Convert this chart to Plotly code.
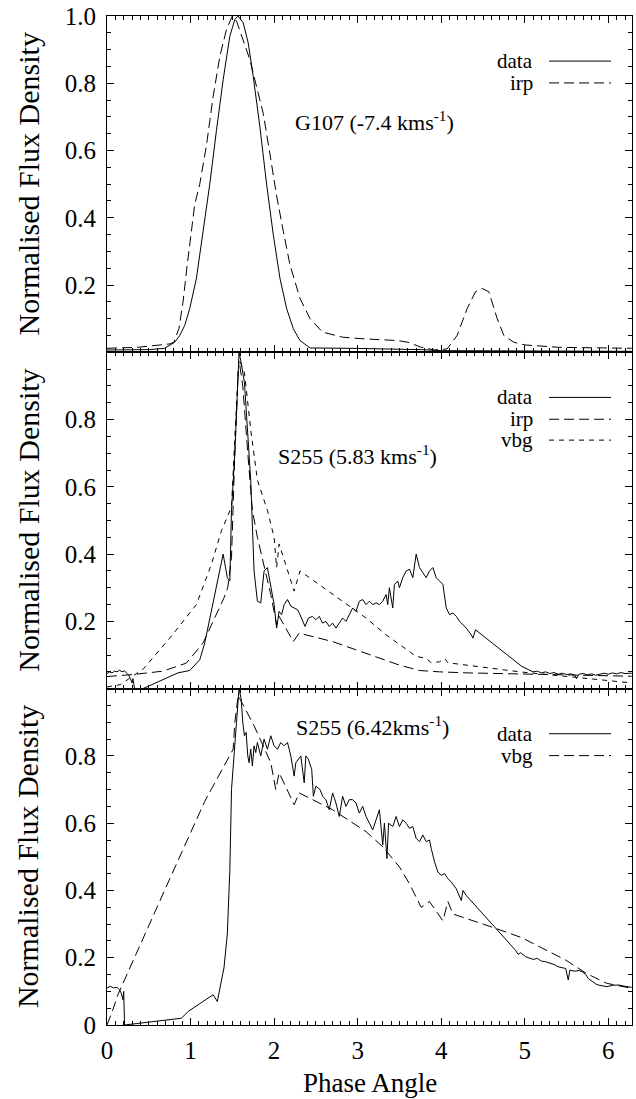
import math
import plotly.graph_objects as go

# ---------------- data ----------------
# Top panel: G107 (-7.4 km/s)
g107_data_x = [0.0, 0.30, 0.51, 0.69, 0.75, 0.81, 0.87, 0.93, 0.99, 1.07, 1.15, 1.23, 1.31, 1.39, 1.47,
               1.53, 1.57, 1.63, 1.69, 1.75, 1.83, 1.91, 1.99, 2.07, 2.15, 2.23, 2.31, 2.43, 2.90, 3.40,
               3.76, 4.00, 4.60, 5.40, 6.28]
g107_data_y = [0.007, 0.007, 0.008, 0.012, 0.02, 0.03, 0.05, 0.08, 0.13, 0.22, 0.36, 0.50, 0.66, 0.81, 0.94,
               0.99, 1.0, 0.98, 0.92, 0.82, 0.67, 0.50, 0.35, 0.22, 0.13, 0.07, 0.035, 0.013, 0.012, 0.01,
               0.008, 0.005, 0.004, 0.003, 0.003]
g107_irp_x = [0.0, 0.37, 0.75, 0.80, 0.86, 0.91, 0.96, 1.01, 1.05, 1.11, 1.19, 1.27, 1.35, 1.43, 1.50,
              1.55, 1.63, 1.71, 1.77, 1.87, 1.95, 2.03, 2.11, 2.19, 2.31, 2.43, 2.58, 2.82, 3.08, 3.48,
              3.60, 3.76, 3.92, 4.07, 4.19, 4.31, 4.41, 4.49, 4.57, 4.67, 4.75, 4.87, 5.00, 5.40, 6.28]
g107_irp_y = [0.012, 0.015, 0.025, 0.03, 0.07, 0.15, 0.26, 0.36, 0.44, 0.50, 0.615, 0.76, 0.88, 0.96, 1.0,
              0.985, 0.93, 0.87, 0.81, 0.71, 0.59, 0.465, 0.36, 0.26, 0.16, 0.10, 0.06, 0.045, 0.04, 0.035,
              0.03, 0.015, 0.007, 0.01, 0.05, 0.13, 0.18, 0.19, 0.18, 0.10, 0.05, 0.03, 0.022, 0.015, 0.012]

# Middle panel: S255 (5.83 km/s)
s255a_data_x = [0.0, 0.03, 0.06, 0.09, 0.12, 0.15, 0.18, 0.21, 0.24, 0.26, 0.28, 0.30, 0.31, 0.33, 0.43,
                0.85, 0.99, 1.11, 1.17, 1.39, 1.44, 1.47, 1.49, 1.53, 1.58, 1.605, 1.645, 1.68, 1.72, 1.76,
                1.80, 1.84, 1.88, 1.92, 1.96, 2.00, 2.03, 2.06, 2.09, 2.12, 2.16, 2.20, 2.24, 2.28, 2.31,
                2.34, 2.37, 2.41, 2.46, 2.50, 2.54, 2.58, 2.62, 2.66, 2.70, 2.74, 2.78, 2.82, 2.86, 2.90,
                2.94, 2.98, 3.02, 3.06, 3.10, 3.14, 3.18, 3.22, 3.26, 3.30, 3.34, 3.36, 3.38, 3.42, 3.44,
                3.48, 3.50, 3.54, 3.58, 3.62, 3.66, 3.70, 3.74, 3.78, 3.82, 3.86, 3.90, 3.94, 3.98, 4.02,
                4.06, 4.10, 4.14, 4.18, 4.22, 4.30, 4.36, 4.38, 4.41, 4.96, 5.04, 5.10, 5.15, 5.20, 5.25,
                5.30, 5.35, 5.40, 5.45, 5.50, 5.55, 5.60, 5.62, 5.65, 5.70, 5.75, 5.80, 5.85, 5.90, 5.95,
                6.00, 6.05, 6.10, 6.15, 6.20, 6.28]
s255a_data_y = [0.045, 0.05, 0.047, 0.052, 0.05, 0.055, 0.05, 0.053, 0.045, 0.04, 0.03, 0.017, 0.03, 0.0, 0.0,
                0.047, 0.054, 0.086, 0.136, 0.40, 0.33, 0.32, 0.53, 0.70, 1.0, 0.97, 0.91, 0.78, 0.62, 0.35,
                0.26, 0.255, 0.35, 0.36, 0.31, 0.25, 0.18, 0.23, 0.22, 0.25, 0.265, 0.245, 0.24, 0.235, 0.22,
                0.20, 0.185, 0.21, 0.215, 0.205, 0.215, 0.195, 0.20, 0.185, 0.195, 0.18, 0.195, 0.21, 0.20, 0.22,
                0.24, 0.23, 0.26, 0.265, 0.25, 0.26, 0.25, 0.255, 0.25, 0.26, 0.28, 0.25, 0.30, 0.24, 0.31,
                0.32, 0.30, 0.33, 0.35, 0.355, 0.33, 0.40, 0.36, 0.345, 0.33, 0.35, 0.36, 0.33, 0.32, 0.31,
                0.24, 0.22, 0.225, 0.215, 0.20, 0.18, 0.16, 0.15, 0.175, 0.067, 0.057, 0.05, 0.052, 0.047, 0.05,
                0.045, 0.048, 0.043, 0.046, 0.042, 0.044, 0.04, 0.03, 0.043, 0.045, 0.041, 0.044, 0.04, 0.043, 0.046,
                0.043, 0.047, 0.044, 0.048, 0.045, 0.046]
s255a_irp_x = [0.0, 0.31, 0.67, 0.95, 1.15, 1.31, 1.40, 1.445, 1.49, 1.53, 1.57, 1.59, 1.625, 1.685, 1.74,
               1.80, 1.88, 1.96, 2.03, 2.06, 2.23, 2.30, 2.70, 3.10, 3.50, 3.74, 3.98, 4.30, 4.94, 5.60, 6.28]
s255a_irp_y = [0.036, 0.042, 0.052, 0.076, 0.136, 0.22, 0.27, 0.30, 0.39, 0.70, 0.94, 0.96, 0.90, 0.70, 0.53,
               0.45, 0.36, 0.28, 0.19, 0.215, 0.14, 0.165, 0.14, 0.105, 0.07, 0.054, 0.05, 0.047, 0.044, 0.04, 0.037]
s255a_vbg_x = [0.0, 0.16, 0.44, 0.75, 1.07, 1.25, 1.37, 1.45, 1.49, 1.53, 1.58, 1.645, 1.72, 1.80, 1.92,
               2.00, 2.03, 2.06, 2.24, 2.31, 2.70, 3.10, 3.34, 3.70, 3.82, 3.88, 3.98, 4.04, 4.08, 4.94,
               5.64, 6.28]
s255a_vbg_y = [0.005, 0.012, 0.06, 0.15, 0.25, 0.37, 0.47, 0.52, 0.54, 0.75, 0.98, 0.94, 0.77, 0.62, 0.53,
               0.45, 0.36, 0.43, 0.29, 0.35, 0.28, 0.21, 0.16, 0.096, 0.09, 0.077, 0.08, 0.09, 0.077, 0.05,
               0.033, 0.017]

# Bottom panel: S255 (6.42 km/s)
s255b_data_x = [0.0, 0.04, 0.08, 0.12, 0.15, 0.17, 0.19, 0.20, 0.21, 0.89, 0.97, 1.27, 1.32, 1.40, 1.44,
                1.47, 1.49, 1.53, 1.55, 1.58, 1.605, 1.625, 1.645, 1.665, 1.685, 1.70, 1.72, 1.74, 1.76, 1.78,
                1.80, 1.84, 1.88, 1.92, 1.96, 2.00, 2.04, 2.08, 2.12, 2.16, 2.20, 2.24, 2.26, 2.32, 2.36,
                2.38, 2.41, 2.45, 2.47, 2.50, 2.55, 2.58, 2.62, 2.66, 2.70, 2.74, 2.78, 2.82, 2.86, 2.90,
                2.94, 2.98, 3.02, 3.06, 3.10, 3.14, 3.18, 3.22, 3.26, 3.30, 3.32, 3.35, 3.37, 3.42, 3.46,
                3.50, 3.54, 3.58, 3.62, 3.66, 3.70, 3.74, 3.78, 3.82, 3.86, 3.88, 3.92, 3.96, 4.00, 4.04,
                4.08, 4.12, 4.18, 4.24, 4.26, 4.30, 4.89, 4.92, 4.95, 5.01, 5.05, 5.10, 5.15, 5.20, 5.25,
                5.30, 5.35, 5.40, 5.45, 5.49, 5.52, 5.54, 5.60, 5.65, 5.69, 5.73, 5.76, 5.80, 5.85, 5.88,
                5.93, 5.98, 6.05, 6.12, 6.20, 6.28]
s255b_data_y = [0.11, 0.115, 0.11, 0.112, 0.105, 0.095, 0.075, 0.10, 0.0, 0.02, 0.04, 0.09, 0.07, 0.17, 0.27,
                0.46, 0.70, 0.85, 0.90, 1.0, 0.97, 0.90, 0.86, 0.87, 0.80, 0.78, 0.82, 0.77, 0.83, 0.81,
                0.84, 0.80, 0.85, 0.82, 0.86, 0.83, 0.82, 0.84, 0.83, 0.84, 0.80, 0.74, 0.78, 0.80, 0.72,
                0.80, 0.79, 0.76, 0.68, 0.71, 0.70, 0.68, 0.67, 0.64, 0.69, 0.66, 0.62, 0.68, 0.65, 0.67,
                0.67, 0.66, 0.63, 0.65, 0.62, 0.60, 0.58, 0.61, 0.64, 0.535, 0.60, 0.495, 0.60, 0.59, 0.62,
                0.59, 0.61, 0.60, 0.585, 0.59, 0.555, 0.545, 0.565, 0.545, 0.55, 0.525, 0.485, 0.455, 0.445, 0.45,
                0.435, 0.425, 0.405, 0.37, 0.40, 0.385, 0.222, 0.21, 0.215, 0.203, 0.20, 0.195, 0.198, 0.19, 0.188,
                0.185, 0.18, 0.173, 0.17, 0.168, 0.134, 0.163, 0.16, 0.162, 0.158, 0.15, 0.138, 0.13, 0.122, 0.119,
                0.117, 0.114, 0.118, 0.119, 0.115, 0.112]
s255b_vbg_x = [0.0, 0.07, 0.13, 0.37, 0.77, 1.17, 1.51, 1.53, 1.57, 1.59, 1.76, 1.96, 2.02, 2.06, 2.24,
               2.30, 2.70, 3.10, 3.30, 3.50, 3.62, 3.70, 3.76, 3.86, 4.02, 4.08, 4.14, 4.62, 4.96, 5.49,
               5.74, 5.98, 6.28]
s255b_vbg_y = [0.0, 0.045, 0.09, 0.225, 0.445, 0.665, 0.82, 0.90, 0.98, 0.97, 0.89, 0.78, 0.70, 0.75, 0.655,
               0.69, 0.64, 0.575, 0.53, 0.47, 0.42, 0.38, 0.35, 0.367, 0.31, 0.367, 0.33, 0.29, 0.26, 0.193,
               0.153, 0.124, 0.109]

ytick_vals = [0, 0.2, 0.4, 0.6, 0.8, 1.0]
ytick_top = ["", "0.2", "0.4", "0.6", "0.8", "1.0"]
ytick_mid = ["", "0.2", "0.4", "0.6", "0.8", ""]
ytick_bot = ["0", "0.2", "0.4", "0.6", "0.8", ""]

# ---------------- figure ----------------
FONT = "Liberation Serif, Times New Roman, serif"
SOLID = "solid"
LONG = "10px,5px"
SHORT = "5px,5px"

fig = go.Figure()


def add(xs, ys, xa, ya, dash):
    fig.add_trace(go.Scatter(x=xs, y=ys, xaxis=xa, yaxis=ya, mode="lines",
                             line=dict(color="black", width=1, dash=dash),
                             showlegend=False, hoverinfo="skip"))


add(g107_data_x, g107_data_y, "x3", "y3", SOLID)
add(g107_irp_x, g107_irp_y, "x3", "y3", LONG)
add(s255a_data_x, s255a_data_y, "x2", "y2", SOLID)
add(s255a_irp_x, s255a_irp_y, "x2", "y2", LONG)
add(s255a_vbg_x, s255a_vbg_y, "x2", "y2", SHORT)
add(s255b_data_x, s255b_data_y, "x", "y", SOLID)
add(s255b_vbg_x, s255b_vbg_y, "x", "y", LONG)

xcommon = dict(range=[0, 2 * math.pi], showline=True, linecolor="black", linewidth=1, mirror="ticks",
               ticks="inside", ticklen=7, tickwidth=1, tickcolor="black", tick0=0, dtick=1,
               minor=dict(ticks="inside", dtick=0.1, ticklen=4, tickwidth=1, tickcolor="black"),
               showgrid=False, zeroline=False,
               tickfont=dict(family=FONT, size=25, color="black"))


def ycommon(text, dom, anchor):
    return dict(domain=dom, anchor=anchor, range=[0, 1], showline=True, linecolor="black", linewidth=1,
                mirror="ticks", ticks="inside", ticklen=7, tickwidth=1, tickcolor="black",
                tickvals=ytick_vals, ticktext=text,
                minor=dict(ticks="inside", dtick=0.05, ticklen=4, tickwidth=1, tickcolor="black"),
                showgrid=False, zeroline=False, ticklabelstandoff=5, ticklabeloverflow="allow",
                tickfont=dict(family=FONT, size=25, color="black"))


fig.update_layout(
    width=636, height=1099,
    margin=dict(l=107, r=3, t=13, b=74),
    paper_bgcolor="white", plot_bgcolor="white",
    font=dict(family=FONT, color="black"),
    xaxis=dict(**xcommon, anchor="y", showticklabels=True, ticklabelstandoff=3),
    xaxis2=dict(**xcommon, anchor="y2", showticklabels=False, matches="x"),
    xaxis3=dict(**xcommon, anchor="y3", showticklabels=False, matches="x"),
    yaxis=ycommon(ytick_bot, [0, 1 / 3], "x"),
    yaxis2=ycommon(ytick_mid, [1 / 3, 2 / 3], "x2"),
    yaxis3=ycommon(ytick_top, [2 / 3, 1], "x3"),
)

ann = []
shapes = []
panels = [("y3", ["data", "irp"], [SOLID, LONG], "G107 (-7.4 kms<sup>-1</sup>)", 0.510, 0.688, "x3"),
          ("y2", ["data", "irp", "vbg"], [SOLID, LONG, SHORT], "S255 (5.83 kms<sup>-1</sup>)", 0.477, 0.695, "x2"),
          ("y", ["data", "vbg"], [SOLID, LONG], "S255 (6.42kms<sup>-1</sup>)", 0.505, 0.890, "x")]
leg_rows = [0.866, 0.801, 0.739]
for ya, labels, dashes, title, tx, ty, xa in panels:
    ann.append(dict(text="Normalised Flux Density", xref="paper", x=-0.150, yref=ya + " domain", y=0.5,
                    textangle=-90, showarrow=False, xanchor="center", yanchor="middle",
                    font=dict(family=FONT, size=30, color="black")))
    ann.append(dict(text=title, xref=xa + " domain", x=tx, yref=ya + " domain", y=ty, showarrow=False,
                    xanchor="center", yanchor="middle", font=dict(family=FONT, size=22, color="black")))
    for lab, dsh, ry in zip(labels, dashes, leg_rows):
        ann.append(dict(text=lab, xref=xa + " domain", x=0.815, yref=ya + " domain", y=ry, showarrow=False,
                        xanchor="right", yanchor="middle", font=dict(family=FONT, size=21, color="black")))
        shapes.append(dict(type="line", xref=xa + " domain", yref=ya + " domain", x0=0.842, x1=0.960,
                           y0=ry, y1=ry, line=dict(color="black", width=1, dash=dsh)))

ann.append(dict(text="Phase Angle", xref="paper", x=0.5, yref="paper", y=-0.0573, showarrow=False,
                xanchor="center", yanchor="middle", font=dict(family=FONT, size=27, color="black")))

fig.update_layout(annotations=ann, shapes=shapes)
# remove the browser's default 8px body margin so the figure fills the window exactly
fig.write_html("out.html", config={"displayModeBar": False},
               post_script="document.body.style.margin='0px';")
